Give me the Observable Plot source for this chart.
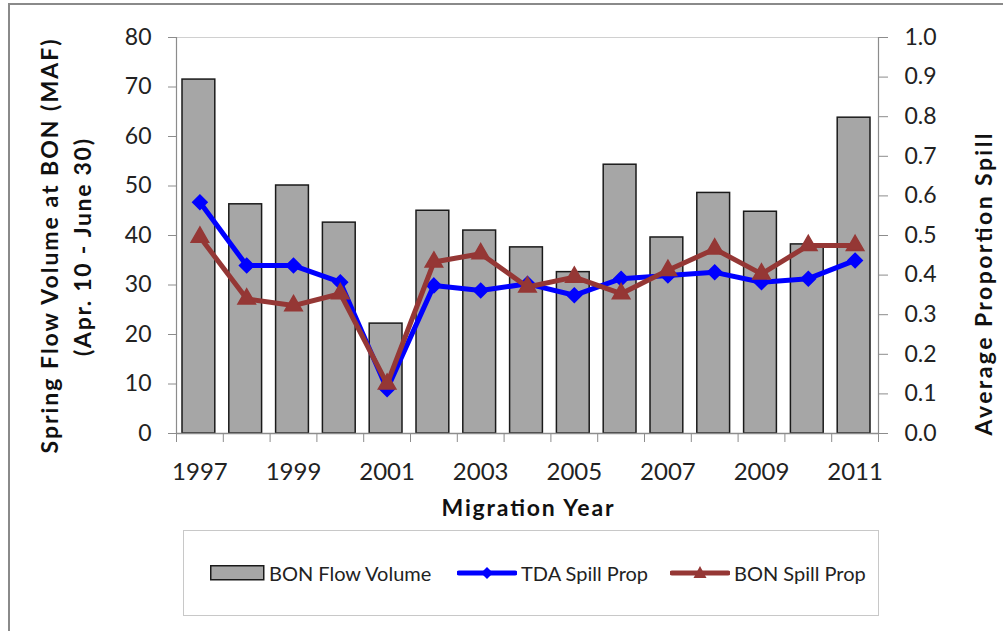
<!DOCTYPE html>
<html><head><meta charset="utf-8">
<script src="https://cdn.jsdelivr.net/npm/d3@7"></script>
<script src="https://cdn.jsdelivr.net/npm/@observablehq/plot@0.6"></script>
<style>
body{margin:0;background:#fff;font-family:Lato,"Open Sans",sans-serif;}
#wrap{position:relative;width:1003px;height:631px;overflow:hidden;background:#fff;}
#border{position:absolute;left:8px;top:3px;width:1100px;height:700px;border:2px solid #8a8a8a;}
#chart{position:absolute;left:0;top:0;}
#legend{position:absolute;left:183px;top:530px;width:694px;height:84px;border:1.5px solid #c8c8c8;background:#fff;}
.item{position:absolute;top:0;height:84px;display:flex;align-items:center;font-size:20px;color:#222;white-space:nowrap;}
.item svg{margin-right:4px;}
</style></head><body>
<div id="wrap"><div id="border"></div><div id="chart"></div><div id="legend"></div></div>
<script>
const years = [1997,1998,1999,2000,2001,2002,2003,2004,2005,2006,2007,2008,2009,2010,2011];
const flowVolume = [71.5,46.3,50.1,42.6,22.2,45.0,41.0,37.6,32.6,54.3,39.6,48.6,44.8,38.2,63.8];
const tdaSpill = [0.584,0.424,0.424,0.382,0.112,0.374,0.361,0.378,0.349,0.391,0.399,0.407,0.382,0.391,0.437];
const bonSpill = [0.496,0.340,0.323,0.353,0.125,0.433,0.454,0.370,0.395,0.353,0.412,0.466,0.403,0.475,0.475];
const leftTicks = [0,10,20,30,40,50,60,70,80];
const rightTicks = [0,0.1,0.2,0.3,0.4,0.5,0.6,0.7,0.8,0.9,1.0];
const yearLabels = [1997,1999,2001,2003,2005,2007,2009,2011];
const seriesNames = ["BON Flow Volume","TDA Spill Prop","BON Spill Prop"];
const leftTitle = ["Spring Flow Volume at BON (MAF)","(Apr. 10 - June 30)"];
const rightTitle = "Average Proportion Spill";
const xTitle = "Migration Year";

const colors = {bar:"#a6a6a6", tda:"#0000ff", bon:"#953735"};
const leftMax = 80, rightMax = 1;
const k = leftMax / rightMax;

const data = years.map((y, i) => ({year: y, flow: flowVolume[i], tda: tdaSpill[i], bon: bonSpill[i]}));
const boundaries = d3.range(years[0] - 0.5, years[years.length - 1] + 1, 1);

const font = "Lato, 'Open Sans', sans-serif";
const titleStyle = {fontSize: 23, fontWeight: "bold", fill: "#111", textAnchor: "middle", text: d => d};
const chart = Plot.plot({
  width: 1003, height: 525,
  marginLeft: 176, marginRight: 125, marginTop: 37, marginBottom: 92,
  style: {fontFamily: font, background: "transparent", color: "#222"},
  x: {type: "linear", domain: [years[0] - 0.5, years[years.length - 1] + 0.5]},
  y: {domain: [0, leftMax]},
  marks: [
    Plot.frame({stroke: "#d0d0d0"}),
    Plot.rectY(data, {x1: d => d.year - 0.5, x2: d => d.year + 0.5, y: "flow", insetLeft: 6, insetRight: 8, fill: colors.bar, stroke: "#1a1a1a", strokeWidth: 1.5}),
    Plot.ruleX([years[0] - 0.5, years[years.length - 1] + 0.5], {stroke: "#8c8c8c", strokeWidth: 1.2}),
    Plot.ruleY([0], {stroke: "#8c8c8c", strokeWidth: 1.5}),
    Plot.axisY(leftTicks, {anchor: "left", tickSize: 8, tickPadding: 17, fontSize: 23, stroke: "#8c8c8c", fill: "#222", label: null}),
    Plot.axisY(rightTicks.map(t => t * k), {anchor: "right", tickSize: 9, tickPadding: 17, fontSize: 23, stroke: "#8c8c8c", fill: "#222", tickFormat: d => (d / k).toFixed(1), label: null}),
    Plot.axisX(boundaries, {anchor: "bottom", tickSize: 9, tickFormat: () => "", stroke: "#8c8c8c", label: null}),
    Plot.axisX(yearLabels, {anchor: "bottom", tickSize: 0, tickPadding: 29, fontSize: 24, fill: "#222", tickFormat: d => String(d), label: null}),
    Plot.line(data, {x: "year", y: d => d.tda * k, stroke: colors.tda, strokeWidth: 5}),
    Plot.dot(data, {x: "year", y: d => d.tda * k, symbol: "diamond2", r: 6.5, fill: colors.tda, stroke: colors.tda}),
    Plot.line(data, {x: "year", y: d => d.bon * k, stroke: colors.bon, strokeWidth: 5}),
    Plot.dot(data, {x: "year", y: d => d.bon * k, symbol: "triangle", r: 6.5, fill: colors.bon, stroke: colors.bon}),
    Plot.text([xTitle], {...titleStyle, frameAnchor: "bottom", dy: 82, className: "t-x"}),
    Plot.text([leftTitle[0]], {...titleStyle, frameAnchor: "left", dx: -126, dy: 11, rotate: -90, className: "t-l1"}),
    Plot.text([leftTitle[1]], {...titleStyle, frameAnchor: "left", dx: -93, dy: 12, rotate: -90, className: "t-l2"}),
    Plot.text([rightTitle], {...titleStyle, frameAnchor: "right", dx: 106, dy: 49, rotate: -90, className: "t-r"})
  ]
});
// stretch titles to the spacing seen in the reference
const lengths = {"t-x": 172, "t-l1": 414, "t-l2": 217, "t-r": 302};
for (const [cls, len] of Object.entries(lengths)) {
  chart.querySelectorAll(`.${cls} text`).forEach(t => { t.setAttribute("textLength", len); t.setAttribute("lengthAdjust", "spacing"); });
}
document.getElementById("chart").appendChild(chart);

// legend
const legend = document.getElementById("legend");
const items = [
  {name: seriesNames[0], left: 26, svg: `<svg width="55" height="16"><rect x="0.75" y="0.75" width="53" height="14" fill="${colors.bar}" stroke="#1a1a1a" stroke-width="1.5"/></svg>`},
  {name: seriesNames[1], left: 273, svg: `<svg width="60" height="16"><line x1="2" y1="8" x2="58" y2="8" stroke="${colors.tda}" stroke-width="5" stroke-linecap="round"/><path d="M30,2L36,8L30,14L24,8Z" fill="${colors.tda}"/></svg>`},
  {name: seriesNames[2], left: 486, svg: `<svg width="60" height="16"><line x1="2" y1="8" x2="58" y2="8" stroke="${colors.bon}" stroke-width="5" stroke-linecap="round"/><path d="M30,1L36.5,13L23.5,13Z" fill="${colors.bon}"/></svg>`}
];
for (const it of items) {
  const div = document.createElement("div");
  div.className = "item";
  div.style.left = it.left + "px";
  div.innerHTML = it.svg + `<span>${it.name}</span>`;
  legend.appendChild(div);
}
</script>
</body></html>
